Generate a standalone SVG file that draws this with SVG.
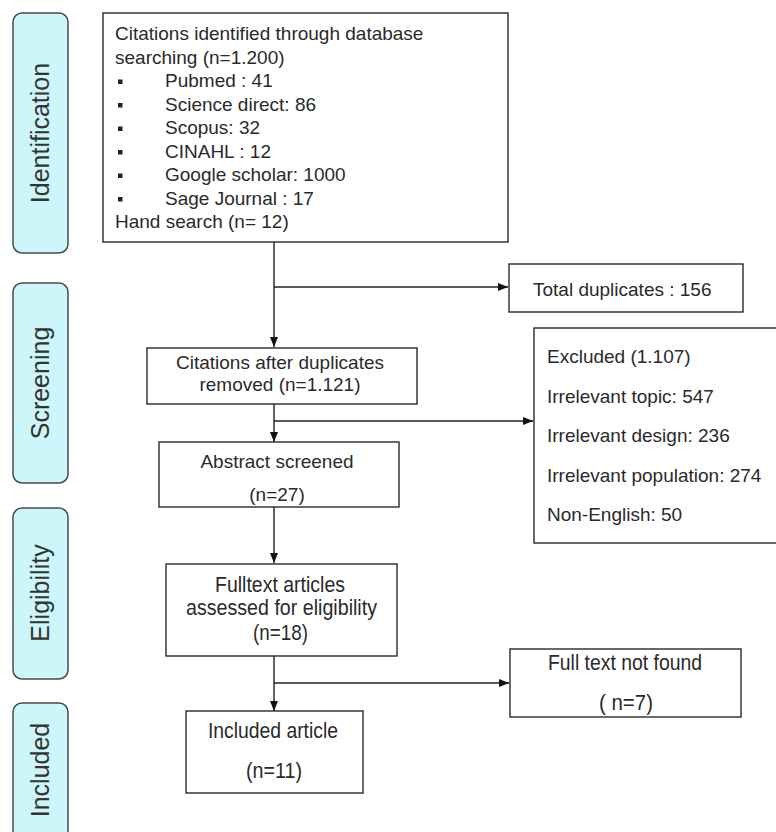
<svg xmlns="http://www.w3.org/2000/svg" width="776" height="832" viewBox="0 0 776 832">
<style>
.stage{fill:#cdf6fb;stroke:#4a4a4a;stroke-width:1.5}
.stxt{font-family:"Liberation Sans",Arial,sans-serif;font-size:25px;fill:#333;text-anchor:middle}
.box{fill:#fff;stroke:#2a2a2a;stroke-width:1.4}
.t{font-family:"Liberation Sans",Arial,sans-serif;font-size:19px;fill:#2a2a2a}
.c{text-anchor:middle}
.n{font-size:22.5px}
.ln{fill:none;stroke:#222;stroke-width:1.4}
.bul{fill:#222}
</style>
<defs>
<marker id="ah" markerWidth="10" markerHeight="10" viewBox="0 0 10 10" refX="10" refY="5" orient="auto" markerUnits="userSpaceOnUse">
<path d="M0,1 L10,5 L0,9 Z" fill="#111"/>
</marker>
</defs>
<rect width="776" height="832" fill="#fff"/>

<g id="stage-identification">
<rect class="stage" x="13" y="13" width="55" height="240" rx="9"/>
<text class="stxt" transform="translate(49,133) rotate(-90)">Identification</text>
</g>
<g id="stage-screening">
<rect class="stage" x="13" y="283" width="55" height="200" rx="9"/>
<text class="stxt" transform="translate(49,383) rotate(-90)">Screening</text>
</g>
<g id="stage-eligibility">
<rect class="stage" x="13" y="508" width="55" height="171" rx="9"/>
<text class="stxt" transform="translate(49,593) rotate(-90)">Eligibility</text>
</g>
<g id="stage-included">
<rect class="stage" x="13" y="703" width="55" height="150" rx="9"/>
<text class="stxt" transform="translate(49,770) rotate(-90)">Included</text>
</g>

<g id="connectors">
<line class="ln" x1="274" y1="242" x2="274" y2="347" marker-end="url(#ah)"/>
<line class="ln" x1="274" y1="287" x2="508" y2="287" marker-end="url(#ah)"/>
<line class="ln" x1="274" y1="404" x2="274" y2="442" marker-end="url(#ah)"/>
<line class="ln" x1="274" y1="421" x2="533" y2="421" marker-end="url(#ah)"/>
<line class="ln" x1="274" y1="507" x2="274" y2="563" marker-end="url(#ah)"/>
<line class="ln" x1="274" y1="656" x2="274" y2="711" marker-end="url(#ah)"/>
<line class="ln" x1="274" y1="683" x2="509" y2="683" marker-end="url(#ah)"/>
</g>

<g id="identified">
<rect class="box" x="103" y="13" width="405" height="229"/>
<text class="t" x="115" y="40">Citations identified through database</text>
<text class="t" x="115" y="63.5">searching (n=1.200)</text>
<rect class="bul" x="118" y="79.5" width="4.5" height="4.5"/>
<text class="t" x="165" y="87">Pubmed : 41</text>
<rect class="bul" x="118" y="103" width="4.5" height="4.5"/>
<text class="t" x="165" y="110.5">Science direct: 86</text>
<rect class="bul" x="118" y="126.5" width="4.5" height="4.5"/>
<text class="t" x="165" y="134">Scopus: 32</text>
<rect class="bul" x="118" y="150" width="4.5" height="4.5"/>
<text class="t" x="165" y="157.5">CINAHL  : 12</text>
<rect class="bul" x="118" y="173.5" width="4.5" height="4.5"/>
<text class="t" x="165" y="181">Google scholar: 1000</text>
<rect class="bul" x="118" y="197" width="4.5" height="4.5"/>
<text class="t" x="165" y="204.5">Sage Journal : 17</text>
<text class="t" x="115" y="228">Hand search (n= 12)</text>
</g>

<g id="duplicates">
<rect class="box" x="509" y="264" width="234" height="48"/>
<text class="t" x="533" y="296">Total duplicates : 156</text>
</g>

<g id="after-duplicates">
<rect class="box" x="147" y="348" width="270" height="56"/>
<text class="t c" x="280" y="369">Citations after duplicates</text>
<text class="t c" x="280" y="391">removed (n=1.121)</text>
</g>

<g id="excluded">
<rect class="box" x="534" y="328" width="250" height="215"/>
<text class="t" x="547" y="363">Excluded (1.107)</text>
<text class="t" x="547" y="402.5">Irrelevant topic: 547</text>
<text class="t" x="547" y="442">Irrelevant design: 236</text>
<text class="t" x="547" y="481.5">Irrelevant population: 274</text>
<text class="t" x="547" y="521">Non-English: 50</text>
</g>

<g id="abstract">
<rect class="box" x="159" y="442" width="240" height="65"/>
<text class="t c" x="277" y="468">Abstract screened</text>
<text class="t c" x="277" y="501">(n=27)</text>
</g>

<g id="fulltext">
<rect class="box" x="166" y="564" width="231" height="92"/>
<text class="t c n" x="280" y="592" textLength="130" lengthAdjust="spacingAndGlyphs">Fulltext articles</text>
<text class="t c n" x="281.5" y="615" textLength="191" lengthAdjust="spacingAndGlyphs">assessed for eligibility</text>
<text class="t c n" x="280.5" y="640" textLength="55" lengthAdjust="spacingAndGlyphs">(n=18)</text>
</g>

<g id="not-found">
<rect class="box" x="510" y="649" width="231" height="68"/>
<text class="t c n" x="625" y="670" textLength="154" lengthAdjust="spacingAndGlyphs">Full text not found</text>
<text class="t c n" x="626" y="710" textLength="54" lengthAdjust="spacingAndGlyphs">( n=7)</text>
</g>

<g id="included">
<rect class="box" x="186" y="711" width="177" height="82"/>
<text class="t c n" x="273" y="738" textLength="130" lengthAdjust="spacingAndGlyphs">Included article</text>
<text class="t c n" x="274" y="778" textLength="56" lengthAdjust="spacingAndGlyphs">(n=11)</text>
</g>
</svg>
